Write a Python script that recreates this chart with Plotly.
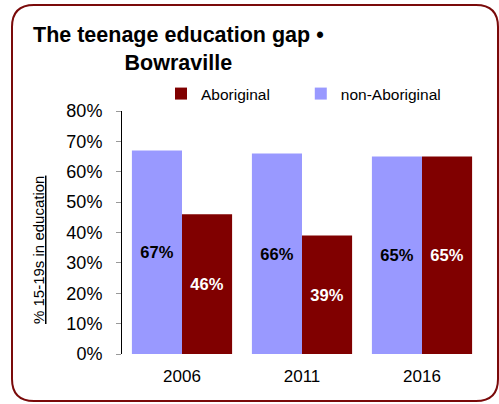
import plotly.graph_objects as go

# Census years and share of 15-19 year olds in education (%)
years = ["2006", "2011", "2016"]
non_aboriginal = [67, 66, 65]
aboriginal = [46, 39, 65]
y_ticks = [0, 10, 20, 30, 40, 50, 60, 70, 80]

W, H = 499, 404
L, R, T, B = 122, 17, 111, 50
PW, PH = W - L - R, H - T - B

FONT = "Liberation Sans, Arial, sans-serif"
PAD = "\u00a0" * 6  # extra space between the two legend entries


def px(x):
    return (x - L) / PW


def py(y):
    return (H - B - y) / PH


fig = go.Figure()
fig.add_trace(go.Bar(
    x=years, y=non_aboriginal, name="non-Aboriginal",
    marker=dict(color="#9999FF", line=dict(width=0)),
    text=[f"{v}%" for v in non_aboriginal], textposition="inside",
    insidetextanchor="middle",
    textfont=dict(family=FONT, size=16.5, color="black", weight="bold"),
    legendrank=2,
))
fig.add_trace(go.Bar(
    x=years, y=aboriginal, name="Aboriginal" + PAD,
    marker=dict(color="#800000", line=dict(width=0)),
    text=[f"{v}%" for v in aboriginal], textposition="inside",
    insidetextanchor="middle",
    textfont=dict(family=FONT, size=16.5, color="white", weight="bold"),
    legendrank=1,
))

# rounded frame around the whole chart
x0, x1, y0, y1, r = 12, 498, 5, 401, 22
path = (
    f"M{px(x0 + r)},{py(y0)} L{px(x1 - r)},{py(y0)} "
    f"Q{px(x1)},{py(y0)} {px(x1)},{py(y0 + r)} "
    f"L{px(x1)},{py(y1 - r)} Q{px(x1)},{py(y1)} {px(x1 - r)},{py(y1)} "
    f"L{px(x0 + r)},{py(y1)} Q{px(x0)},{py(y1)} {px(x0)},{py(y1 - r)} "
    f"L{px(x0)},{py(y0 + r)} Q{px(x0)},{py(y0)} {px(x0 + r)},{py(y0)} Z"
)

fig.update_layout(
    width=W, height=H,
    margin=dict(l=L, r=R, t=T, b=B, autoexpand=False),
    paper_bgcolor="white", plot_bgcolor="white",
    barmode="group", bargap=0.165, bargroupgap=0,
    font=dict(family=FONT, size=15, color="black"),
    showlegend=True,
    legend=dict(
        orientation="h", x=px(161), y=py(94), xanchor="left", yanchor="middle",
        font=dict(size=15.5), itemwidth=30,
        bgcolor="rgba(0,0,0,0)", itemclick=False,
    ),
    shapes=[dict(type="path", path=path, xref="paper", yref="paper",
                 line=dict(color="#7A0A0A", width=2), layer="above")],
    annotations=[
        dict(
            text="<b>The teenage education gap •<br>Bowraville</b>",
            xref="paper", yref="paper", x=px(178), y=py(21),
            xanchor="center", yanchor="top", align="center",
            showarrow=False, font=dict(size=21.5, color="black"),
        ),
        dict(
            text="<u>% 15-19s in education</u>",
            xref="paper", yref="paper", x=px(38), y=py(250),
            xanchor="center", yanchor="middle", textangle=-90,
            showarrow=False, font=dict(size=15, color="black"),
        ),
    ],
    xaxis=dict(
        showline=False, ticks="", showgrid=False,
        tickfont=dict(size=17), ticklabelstandoff=10,
    ),
    yaxis=dict(
        range=[0, 80], tickvals=y_ticks, ticktext=[f"{v}%" for v in y_ticks],
        showline=True, linecolor="black", linewidth=1,
        ticks="outside", ticklen=5, tickcolor="#999999",
        showgrid=False, zeroline=False, tickfont=dict(size=18),
        ticklabelstandoff=10,
    ),
)

fig.write_html("out.html")
